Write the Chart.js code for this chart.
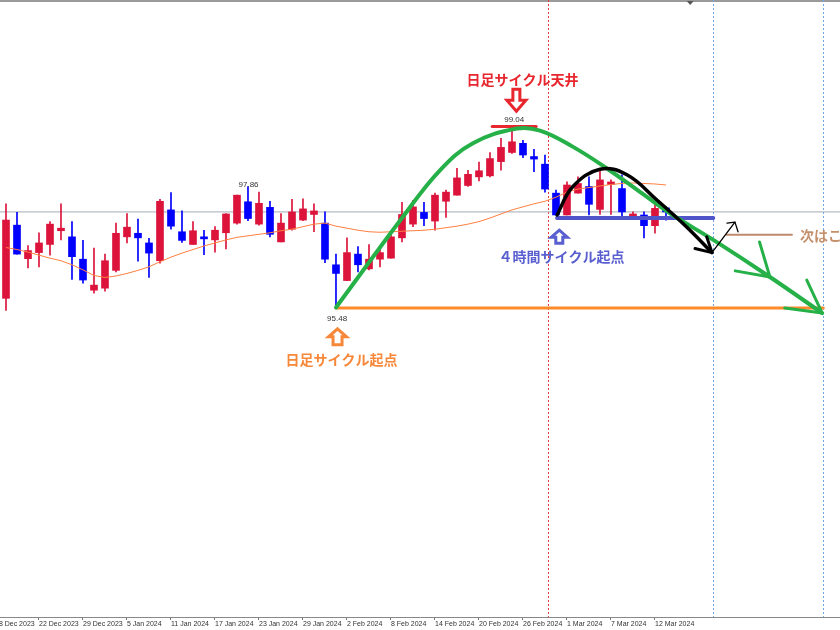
<!DOCTYPE html>
<html>
<head>
<meta charset="utf-8">
<script src="https://cdn.jsdelivr.net/npm/chart.js@4.4.1/dist/chart.umd.min.js"></script>
<style>
  html, body { margin: 0; padding: 0; background: #fff; }
  #wrap { width: 840px; height: 630px; position: relative; }
</style>
</head>
<body>
<div id="wrap"><canvas id="chart"></canvas></div>
<script>
// daily candles, bar 0 = 19 Dec 2023
const opens = [
  95.66, 97.10, 96.44, 96.56, 96.72, 96.99, 96.87, 96.43, 95.82, 95.86,
  96.21, 96.87, 96.94, 96.75, 96.40, 97.40, 96.97, 96.72, 96.87, 96.81,
  96.95, 97.14, 97.56, 97.12, 97.45, 96.77, 97.02, 97.20, 97.31, 97.14,
  96.32, 96.01, 96.53, 96.24, 96.43, 96.45, 96.85, 97.12, 97.35, 97.18,
  97.57, 97.69, 97.88, 98.05, 98.07, 98.35, 98.53, 98.71, 98.45, 98.30,
  97.73, 97.30, 97.73, 97.86, 97.41, 97.90, 97.82, 97.26, 97.30, 97.09, 97.44
];
const highs = [
  97.52, 97.35, 96.70, 96.95, 97.17, 97.52, 97.17, 96.80, 96.65, 96.53,
  97.14, 97.33, 97.22, 96.84, 97.61, 97.74, 97.38, 97.17, 97.00, 97.07,
  97.33, 97.69, 97.86, 97.75, 97.57, 97.33, 97.61, 97.62, 97.52, 97.36,
  96.53, 96.85, 96.68, 96.72, 96.64, 96.97, 97.55, 97.59, 97.55, 97.73,
  97.79, 98.22, 98.18, 98.34, 98.53, 98.81, 99.04, 98.77, 98.59, 98.48,
  97.79, 97.95, 98.05, 98.05, 98.16, 97.99, 98.09, 97.36, 97.36, 97.50, 97.46
];
const lows = [
  95.42, 96.53, 96.26, 96.28, 96.51, 96.81, 96.03, 95.96, 95.76, 95.80,
  96.18, 96.75, 96.39, 96.07, 96.35, 97.02, 96.76, 96.72, 96.52, 96.57,
  96.63, 97.12, 97.19, 97.10, 96.87, 96.77, 97.00, 97.19, 96.97, 96.36,
  95.48, 96.01, 96.18, 96.22, 96.28, 96.45, 96.77, 97.07, 97.09, 97.00,
  97.25, 97.69, 97.86, 97.97, 98.05, 98.18, 98.51, 98.43, 98.15, 97.75,
  97.30, 97.30, 97.73, 97.30, 97.31, 97.31, 97.27, 97.26, 96.85, 96.94, 97.20
];
const closes = [
  97.20, 96.53, 96.60, 96.75, 97.12, 97.04, 96.48, 96.02, 95.92, 96.40,
  96.94, 97.06, 96.85, 96.55, 97.57, 97.08, 96.80, 96.99, 96.83, 97.00,
  97.32, 97.69, 97.23, 97.53, 96.92, 97.14, 97.36, 97.42, 97.38, 96.43,
  96.15, 96.56, 96.32, 96.43, 96.56, 96.87, 97.31, 97.46, 97.23, 97.69,
  97.75, 98.03, 98.10, 98.17, 98.41, 98.63, 98.74, 98.48, 98.40, 97.81,
  97.30, 97.89, 97.92, 97.51, 97.99, 97.95, 97.36, 97.32, 97.09, 97.43, 97.36
];
// moving average (thin orange line)
const ma = [
  96.66, 96.62, 96.57, 96.51, 96.45, 96.40, 96.32, 96.22, 96.11, 96.07,
  96.10, 96.15, 96.21, 96.28, 96.38, 96.47, 96.55, 96.62, 96.69, 96.75,
  96.81, 96.86, 96.89, 96.92, 96.95, 96.99, 97.02, 97.07, 97.12, 97.14,
  97.08, 97.04, 97.00, 96.97, 96.96, 96.97, 96.98, 96.99, 97.00, 97.02,
  97.05, 97.08, 97.12, 97.17, 97.24, 97.32, 97.40, 97.46, 97.52, 97.57,
  97.65, 97.75, 97.81, 97.84, 97.87, 97.90, 97.92, 97.93, 97.92, 97.91, 97.89
];

// date labels, one every 4 bars starting at bar -1
const tickStart = -1, tickStep = 4;
const tickLabels = ["18 Dec 2023", "22 Dec 2023", "29 Dec 2023", "5 Jan 2024", "11 Jan 2024",
  "17 Jan 2024", "23 Jan 2024", "29 Jan 2024", "2 Feb 2024", "8 Feb 2024", "14 Feb 2024",
  "20 Feb 2024", "26 Feb 2024", "1 Mar 2024", "7 Mar 2024", "12 Mar 2024"];

// levels drawn on the chart
const bidPrice = 97.36;
const peakPrice = 99.04;
const basePrice = 95.47;
const h4Price = 97.24;
const nextPrice = 96.91;

// hand drawn curves (bar index, price)
const arcX = [30, 36.0, 39.45, 42.45, 46.45, 48.55, 51.55, 54.6, 57.6, 60.6, 64.3, 69.45, 74.2];
const arcY = [95.48, 97.24, 98.18, 98.71, 99.00, 98.96, 98.64, 98.22, 97.76, 97.30, 96.81, 96.08, 95.37];
const blackX = [50.1, 51.5, 54.0, 56.45, 59.2, 61.9, 64.18];
const blackY = [97.30, 97.85, 98.20, 98.09, 97.59, 97.06, 96.56];

// vertical markers
const vLines = [49.25, 64.3, 74.3];
const vColors = ['#e33a3a', '#6fa8e8', '#6fa8e8'];

// text notes
const noteText = ["日足サイクル天井", "日足サイクル起点", "４時間サイクル起点", "次はこ"];
const noteX = [46.95, 30.5, 50.5, 72.18];
const noteY = [99.97, 94.45, 96.47, 96.90];
const noteColor = ['#e8262e', '#f7883a', '#5a5fd0', '#c4906c'];
const noteAlign = ['center', 'center', 'center', 'left'];

// price tags
const tagValue = [99.04, 97.86, 95.48];
const tagX = [46.2, 22.05, 30.1];
const tagY = [99.17, 97.89, 95.25];

// hollow arrows
const arrowX = [46.4, 30.14, 50.3];
const arrowTip = [99.34, 95.06, 97.00];
const arrowUp = [false, true, true];
const arrowColor = ['#e8262e', '#f7883a', '#5a5fd0'];
const arrowSize = [[9.5, 22, 3.5, 11], [9, 16, 4.5, 8], [8, 13, 3.5, 7]];

const shiftMarker = 62.2;

const upColor = '#dc143c', downColor = '#0000ff';
const candleColor = (c) => closes[c.dataIndex] >= opens[c.dataIndex] ? upColor : downColor;

function seg(xs, ys, color, width, order, tension) {
  return {
    type: 'line',
    data: xs.map((x, i) => ({ x: x, y: ys[i] })),
    borderColor: color,
    borderWidth: width,
    pointRadius: 0,
    tension: tension || 0,
    borderCapStyle: 'round',
    borderJoinStyle: 'round',
    order: order
  };
}

function blockArrow(ctx, cx, tip, up, s, color) {
  const [hw, h, sh, hl] = s;
  const d = up ? 1 : -1;
  ctx.beginPath();
  ctx.moveTo(cx, tip);
  ctx.lineTo(cx + hw, tip + d * hl);
  ctx.lineTo(cx + sh, tip + d * hl);
  ctx.lineTo(cx + sh, tip + d * h);
  ctx.lineTo(cx - sh, tip + d * h);
  ctx.lineTo(cx - sh, tip + d * hl);
  ctx.lineTo(cx - hw, tip + d * hl);
  ctx.closePath();
  ctx.strokeStyle = color;
  ctx.lineWidth = 3;
  ctx.lineJoin = 'miter';
  ctx.stroke();
}

const overlay = {
  id: 'overlay',
  beforeDatasetsDraw(chart) {
    const { ctx, chartArea: a, scales: { x } } = chart;
    ctx.save();
    // frame top
    ctx.strokeStyle = '#9a9a9a';
    ctx.lineWidth = 2;
    ctx.beginPath(); ctx.moveTo(a.left, a.top + 1); ctx.lineTo(a.right, a.top + 1); ctx.stroke();
    // dotted verticals
    ctx.lineWidth = 1;
    ctx.setLineDash([2, 2]);
    vLines.forEach((v, k) => {
      const px = Math.round(x.getPixelForValue(v)) + 0.5;
      ctx.strokeStyle = vColors[k];
      ctx.beginPath(); ctx.moveTo(px, a.top); ctx.lineTo(px, a.bottom); ctx.stroke();
    });
    ctx.setLineDash([]);
    // chart shift marker
    const sx = x.getPixelForValue(shiftMarker);
    ctx.fillStyle = '#555';
    ctx.beginPath();
    ctx.moveTo(sx - 3.5, a.top + 1); ctx.lineTo(sx + 3.5, a.top + 1); ctx.lineTo(sx, a.top + 5);
    ctx.closePath(); ctx.fill();
    ctx.restore();
  },
  afterDatasetsDraw(chart) {
    const { ctx, scales: { x, y } } = chart;
    ctx.save();
    ctx.textBaseline = 'middle';
    // price tags
    ctx.font = '8px "Liberation Sans", Arial, sans-serif';
    ctx.fillStyle = '#333';
    ctx.textAlign = 'center';
    tagValue.forEach((v, k) => {
      ctx.fillText(v.toFixed(2), x.getPixelForValue(tagX[k]), y.getPixelForValue(tagY[k]));
    });
    // notes
    ctx.font = 'bold 14px "Noto Sans CJK JP", sans-serif';
    noteText.forEach((t, k) => {
      ctx.fillStyle = noteColor[k];
      ctx.textAlign = noteAlign[k];
      ctx.fillText(t, x.getPixelForValue(noteX[k]), y.getPixelForValue(noteY[k]));
    });
    // arrows
    arrowX.forEach((v, k) => {
      blockArrow(ctx, x.getPixelForValue(v), y.getPixelForValue(arrowTip[k]), arrowUp[k], arrowSize[k], arrowColor[k]);
    });
    ctx.restore();
  }
};

const bars = opens.map((o, i) => i);

const datasets = [
  // annotations on top
  seg([64.18, 66.27], [96.56, 97.16], '#000', 1.3, 0),
  seg([65.55, 66.27, 66.55], [97.14, 97.16, 96.97], '#000', 1.3, 0),
  seg([62.64, 64.18, 63.7], [96.64, 96.56, 96.87], '#000', 3, 0),
  seg(blackX, blackY, '#000', 3.5, 0, 0.4),
  seg([68.5, 69.45, 66.3], [96.77, 96.08, 96.20], '#25b048', 3, 1),
  seg([72.8, 74.2, 70.8], [96.02, 95.37, 95.47], '#25b048', 3, 1),
  seg(arcX, arcY, '#25b048', 4, 1, 0.4),
  seg([44.2, 48.2], [peakPrice, peakPrice], '#e8262e', 3, 2),
  seg([50.1, 64.3], [h4Price, h4Price], '#4f55c8', 4, 2),
  seg([30, 74.3], [basePrice, basePrice], '#ff8a2a', 3, 2),
  seg([65.5, 71.45], [nextPrice, nextPrice], '#c08a6c', 2, 2),
  {
    type: 'line',
    data: bars.map(i => ({ x: i, y: ma[i] })),
    borderColor: '#ff7f40',
    borderWidth: 1,
    pointRadius: 0,
    tension: 0,
    order: 3
  },
  {
    type: 'bar',
    data: bars.map(i => ({ x: i, y: [opens[i], closes[i]] })),
    backgroundColor: candleColor,
    borderWidth: 0,
    barThickness: 7,
    minBarLength: 1,
    grouped: false,
    order: 4
  },
  {
    type: 'bar',
    data: bars.map(i => ({ x: i, y: [lows[i], highs[i]] })),
    backgroundColor: candleColor,
    borderWidth: 0,
    barThickness: 1,
    grouped: false,
    order: 5
  },
  seg([-1, 77], [bidPrice, bidPrice], '#a3aab5', 1, 6)
];

new Chart(document.getElementById('chart'), {
  type: 'bar',
  data: { datasets: datasets },
  options: {
    responsive: true,
    maintainAspectRatio: false,
    animation: false,
    devicePixelRatio: 1,
    layout: { padding: 0 },
    plugins: { legend: { display: false }, tooltip: { enabled: false } },
    scales: {
      x: {
        type: 'linear',
        min: -0.545,
        max: 75.82,
        offset: false,
        grid: { offset: false, drawOnChartArea: false, drawTicks: true, tickLength: 3, color: '#777' },
        border: { display: true, color: '#888', width: 1 },
        ticks: {
          autoSkip: false,
          maxRotation: 0,
          minRotation: 0,
          align: 'start',
          padding: 0,
          color: '#333',
          font: { family: 'Liberation Sans', size: 7 },
          callback: (v, k) => tickLabels[k]
        },
        afterBuildTicks: (scale) => {
          scale.ticks = tickLabels.map((t, k) => ({ value: tickStart + tickStep * k }));
        },
        afterFit: (scale) => {
          scale.height = 13;
          scale.paddingLeft = 0;
          scale.paddingRight = 0;
        }
      },
      y: {
        type: 'linear',
        display: false,
        min: 89.39,
        max: 101.53,
        beginAtZero: false
      }
    }
  },
  plugins: [overlay]
});
</script>
</body>
</html>
